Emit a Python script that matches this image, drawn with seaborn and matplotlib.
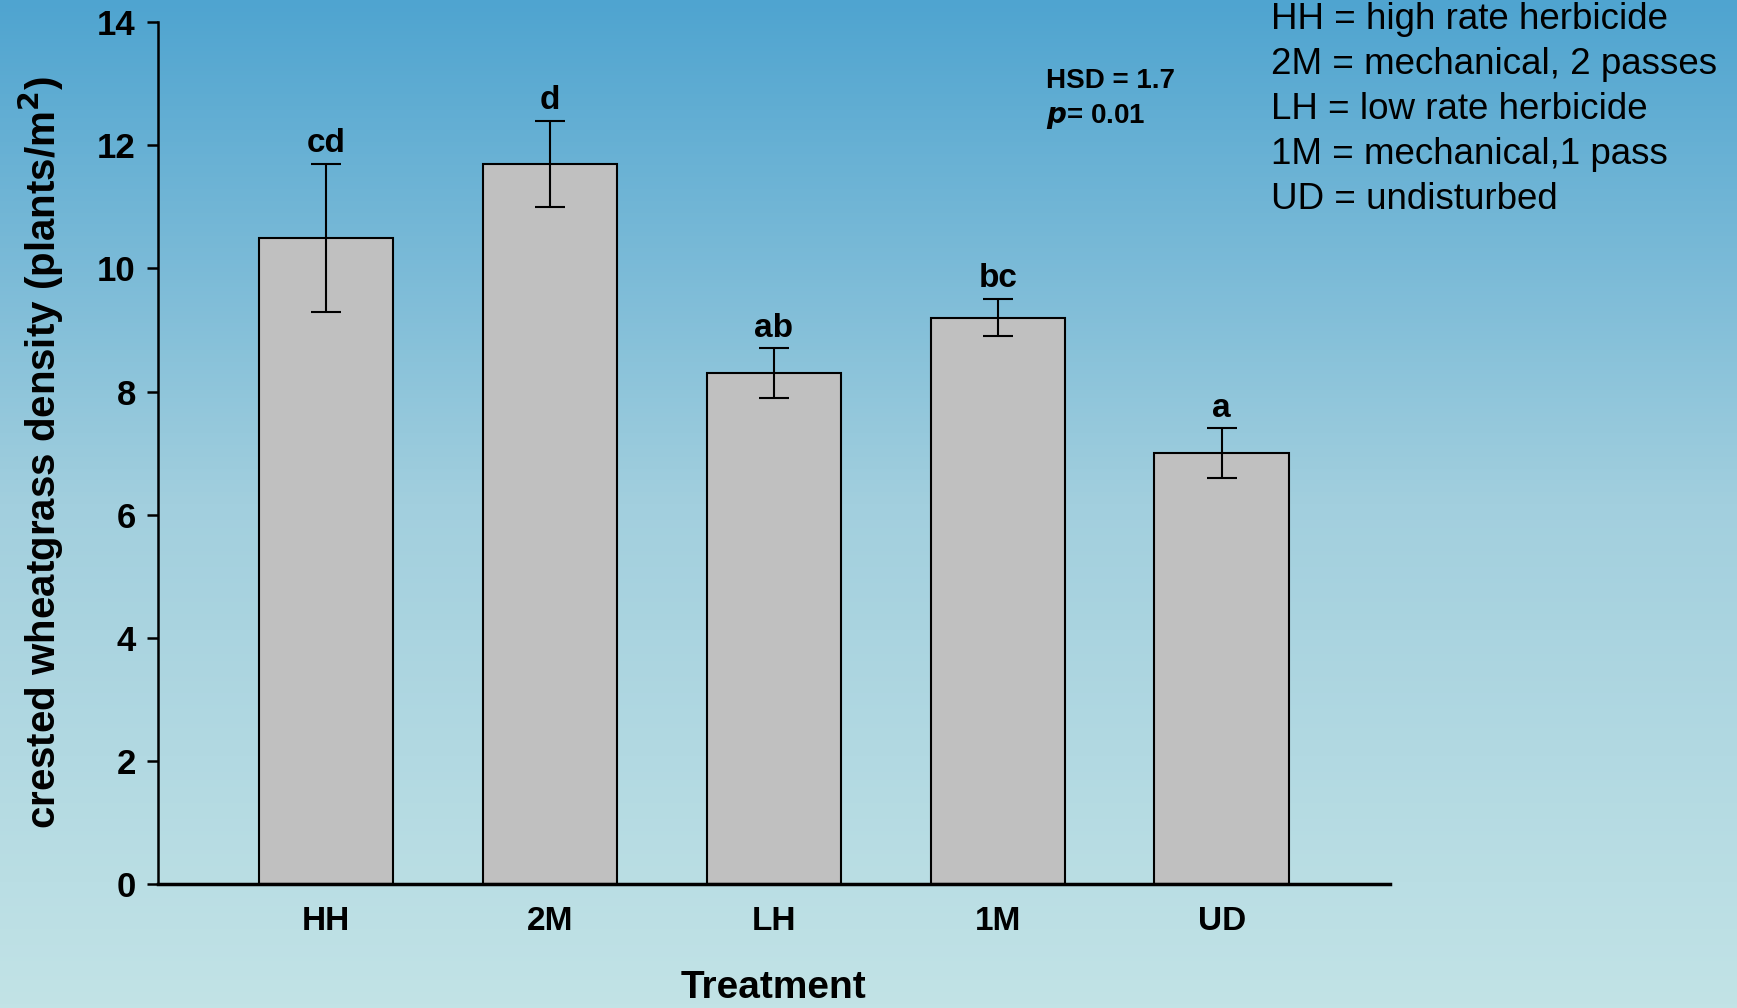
import seaborn as sns
import matplotlib.pyplot as plt
import numpy as np
import pandas as pd
from matplotlib.colors import LinearSegmentedColormap

# data
treatments = ['HH', '2M', 'LH', '1M', 'UD']
density = [10.5, 11.7, 8.3, 9.2, 7.0]
std_err = [1.2, 0.7, 0.4, 0.3, 0.4]
letters = ['cd', 'd', 'ab', 'bc', 'a']
key_lines = ['HH = high rate herbicide',
             '2M = mechanical, 2 passes',
             'LH = low rate herbicide',
             '1M = mechanical,1 pass',
             'UD = undisturbed']

df = pd.DataFrame({'Treatment': treatments, 'density': density, 'se': std_err})

sns.set_style('ticks')
plt.rcParams['font.family'] = ['Liberation Sans', 'DejaVu Sans']
plt.rcParams['text.color'] = 'black'
plt.rcParams['axes.labelcolor'] = 'black'
plt.rcParams['xtick.color'] = 'black'
plt.rcParams['ytick.color'] = 'black'
plt.rcParams['axes.edgecolor'] = 'black'

fig = plt.figure(figsize=(17.37, 10.08), dpi=100)

# gradient background
bg = fig.add_axes([0, 0, 1, 1], zorder=-10)
grad = LinearSegmentedColormap.from_list('bg', ['#4fa4d0', '#a2cfde', '#c2e3e6'])
bg.imshow(np.linspace(0, 1, 256).reshape(-1, 1), aspect='auto', cmap=grad,
          extent=[0, 1, 0, 1])
bg.axis('off')

ax = fig.add_axes([0.091, 0.123, 0.709, 0.855])
ax.patch.set_alpha(0)
sns.barplot(data=df, x='Treatment', y='density', color='#c0c0c0',
            edgecolor='black', linewidth=1.5, width=0.6, saturation=1, ax=ax)
ax.errorbar(range(len(treatments)), df['density'], yerr=df['se'], fmt='none',
            ecolor='black', elinewidth=1.5, capsize=11, capthick=1.5)

for i, (v, e, lab) in enumerate(zip(density, std_err, letters)):
    ax.text(i, v + e + 0.08, lab, ha='center', va='bottom', fontsize=24,
            fontweight='bold')

ax.set_xlim(-0.75, 4.75)
ax.set_ylim(0, 14)
ax.set_yticks(range(0, 15, 2))
sns.despine(ax=ax)
ax.spines['left'].set_linewidth(1.8)
ax.spines['bottom'].set_linewidth(2.5)
ax.tick_params(axis='y', length=8, width=1.8, labelsize=25, pad=8)
ax.tick_params(axis='x', length=0, labelsize=24, pad=16)
for t in ax.get_xticklabels() + ax.get_yticklabels():
    t.set_fontweight('bold')

ax.set_xlabel('Treatment', fontsize=28, fontweight='bold', va='center')
ax.xaxis.set_label_coords(0.5, -0.121)
ax.set_ylabel('crested wheatgrass density (plants/m$^\\mathbf{2}$)', fontsize=29,
              fontweight='bold', va='center')
ax.yaxis.set_label_coords(-0.095, 0.5)

fig.text(0.602, 0.92, 'HSD = 1.7', fontsize=20, fontweight='bold', va='center')
fig.text(0.602, 0.884, '$\\mathbfit{p}$= 0.01', fontsize=20, fontweight='bold',
         va='center')

for k, line in enumerate(key_lines):
    fig.text(0.732, 0.981 - k * 0.0448, line, fontsize=26.5, va='center')

fig.savefig('out.png', dpi=100)
